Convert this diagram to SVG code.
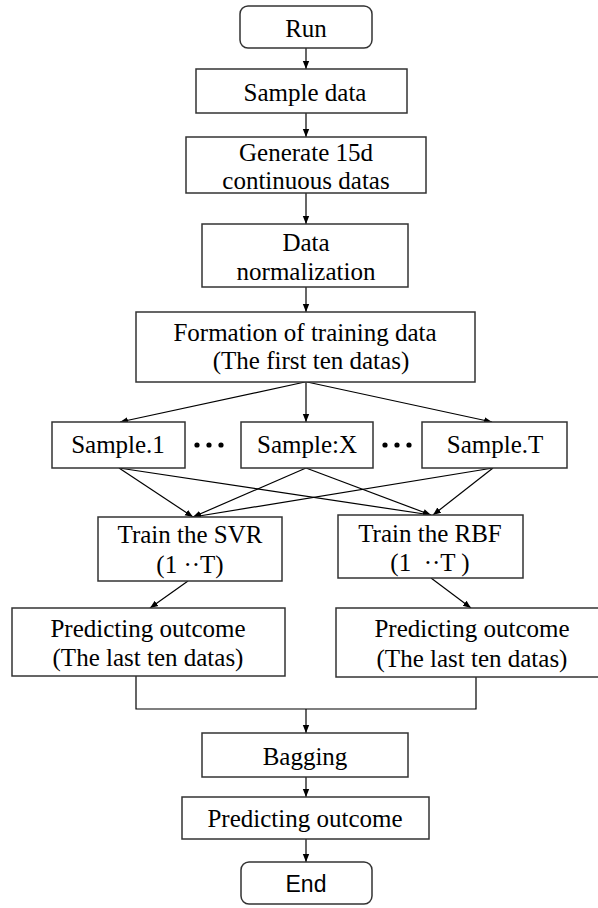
<svg xmlns="http://www.w3.org/2000/svg" width="598" height="908" viewBox="0 0 598 908">
<style>
.box{fill:#fff;stroke:#333;stroke-width:1.5}
.t{font-family:"Liberation Serif","Times New Roman",serif;font-size:25px;fill:#000;text-anchor:middle}
.s{font-family:"Liberation Sans",Arial,sans-serif;font-size:23px;fill:#000;text-anchor:middle}
.c{fill:none;stroke:#000;stroke-width:1.2}
.a{marker-end:url(#ah)}
</style>
<defs>
<marker id="ah" viewBox="0 0 10 10" refX="10" refY="5" markerWidth="8" markerHeight="8" markerUnits="userSpaceOnUse" orient="auto">
<path d="M0,1 L10,5 L0,9 Z" fill="#000"/>
</marker>
</defs>
<rect width="598" height="908" fill="#fff"/>
<g id="connectors">
<path class="c a" d="M306,48 V69"/>
<path class="c a" d="M306,113 V137"/>
<path class="c a" d="M306,193 V224"/>
<path class="c a" d="M306,287 V312"/>
<path class="c a" d="M305,382 L120,422"/>
<path class="c a" d="M306,382 V422"/>
<path class="c a" d="M307,382 L492,422"/>
<path class="c a" d="M119,468 L193,517"/>
<path class="c a" d="M119,468 L431,515"/>
<path class="c a" d="M306,468 L193,517"/>
<path class="c a" d="M306,468 L431,515"/>
<path class="c a" d="M493,468 L193,517"/>
<path class="c a" d="M493,468 L433,515"/>
<path class="c a" d="M188,581 L150,608"/>
<path class="c a" d="M431,578 L471,608"/>
<path class="c" d="M136,676 V709 H476 V677"/>
<path class="c a" d="M306,709 V733"/>
<path class="c a" d="M306,777 V797"/>
<path class="c a" d="M306,839 V862"/>
</g>
<g id="run"><rect class="box" x="240" y="6" width="132" height="42" rx="8"/><text class="t" x="306" y="37">Run</text></g>
<g id="sample-data"><rect class="box" x="196" y="69" width="211" height="44"/><text class="t" x="305" y="101">Sample data</text></g>
<g id="generate"><rect class="box" x="186" y="137" width="240" height="56"/><text class="t" x="306" y="161">Generate 15d</text><text class="t" x="306" y="189">continuous datas</text></g>
<g id="normalization"><rect class="box" x="202" y="224" width="206" height="63"/><text class="t" x="306" y="251">Data</text><text class="t" x="306" y="280">normalization</text></g>
<g id="formation"><rect class="box" x="136" y="312" width="339" height="70"/><text class="t" x="305" y="341">Formation of training data</text><text class="t" x="311" y="369">(The first ten datas)</text></g>
<g id="sample1"><rect class="box" x="52" y="422" width="133" height="46"/><text class="t" x="118" y="453">Sample.1</text></g>
<g id="dots1"><circle cx="197" cy="445" r="2.6"/><circle cx="209" cy="445" r="2.6"/><circle cx="221" cy="445" r="2.6"/></g>
<g id="sampleX"><rect class="box" x="241" y="422" width="132" height="46"/><text class="t" x="307" y="453">Sample:X</text></g>
<g id="dots2"><circle cx="385" cy="445" r="2.6"/><circle cx="397" cy="445" r="2.6"/><circle cx="409" cy="445" r="2.6"/></g>
<g id="sampleT"><rect class="box" x="422" y="422" width="145" height="46"/><text class="t" x="495" y="453">Sample.T</text></g>
<g id="svr"><rect class="box" x="98" y="517" width="184" height="64"/><text class="t" x="190" y="543">Train the SVR</text><text class="t" x="190" y="573" xml:space="preserve">(1 ··T)</text></g>
<g id="rbf"><rect class="box" x="338" y="515" width="185" height="63"/><text class="t" x="430" y="542">Train the RBF</text><text class="t" x="430" y="571" xml:space="preserve">(1  ··T )</text></g>
<g id="pred-left"><rect class="box" x="12" y="608" width="273" height="68"/><text class="t" x="148" y="637">Predicting outcome</text><text class="t" x="148" y="666">(The last ten datas)</text></g>
<g id="pred-right"><rect class="box" x="336" y="608" width="270" height="69"/><text class="t" x="472" y="637">Predicting outcome</text><text class="t" x="472" y="667">(The last ten datas)</text></g>
<g id="bagging"><rect class="box" x="202" y="733" width="206" height="44"/><text class="t" x="305" y="765">Bagging</text></g>
<g id="predicting"><rect class="box" x="182" y="797" width="247" height="42"/><text class="t" x="305" y="827">Predicting outcome</text></g>
<g id="end"><rect class="box" x="241" y="862" width="131" height="42" rx="8"/><text class="s" x="306" y="892">End</text></g>
</svg>
